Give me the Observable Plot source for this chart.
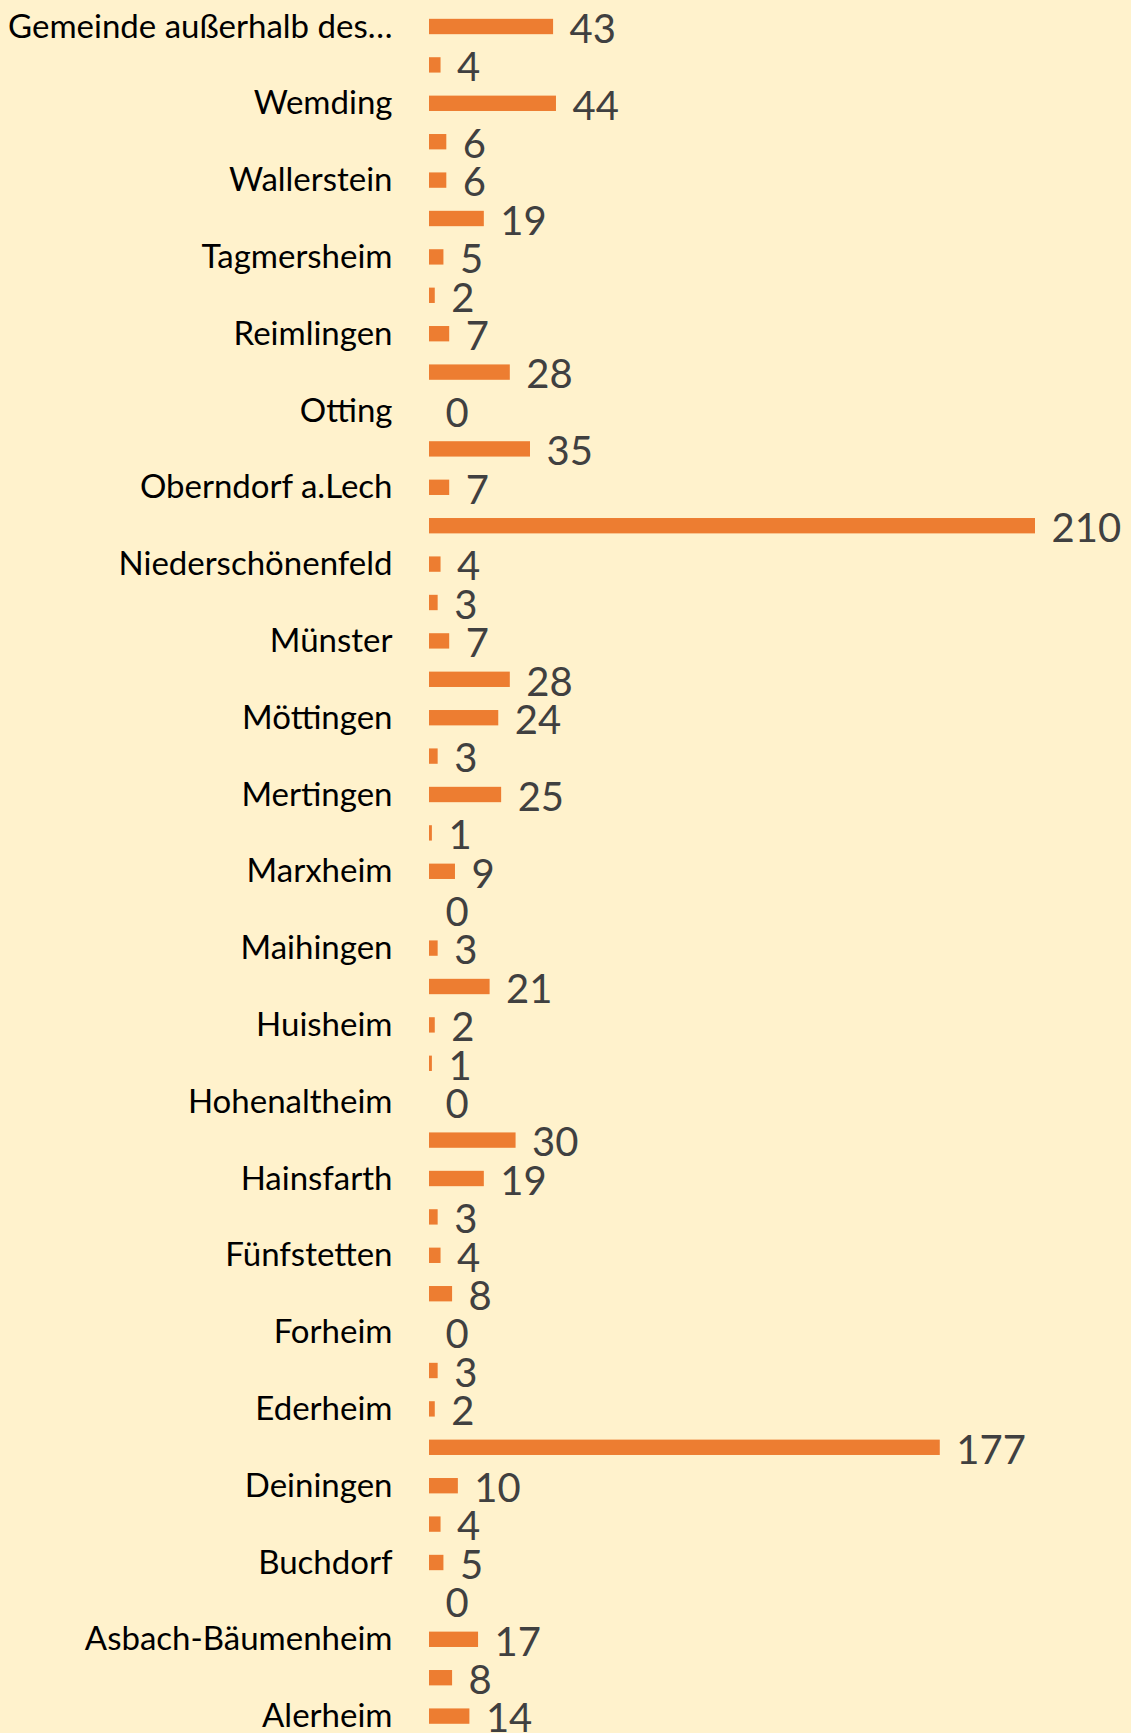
<!DOCTYPE html>
<html>
<head>
<meta charset="utf-8">
<script src="https://cdn.jsdelivr.net/npm/d3@7"></script>
<script src="https://cdn.jsdelivr.net/npm/@observablehq/plot@0.6"></script>
<style>
  html, body { margin: 0; padding: 0; background: #FFF2CC; }
  #chart svg { display: block; }
</style>
</head>
<body>
<div id="chart"></div>
<script>
// Categories from top to bottom
const categories = [
  "Gemeinde außerhalb des Landkreises", "Wolferstadt", "Wemding", "Wechingen", "Wallerstein",
  "Tapfheim", "Tagmersheim", "Rögling", "Reimlingen", "Rain",
  "Otting", "Oettingen", "Oberndorf a.Lech", "Nördlingen", "Niederschönenfeld",
  "Munningen", "Münster", "Monheim", "Möttingen", "Mönchsdeggingen",
  "Mertingen", "Megesheim", "Marxheim", "Marktoffingen", "Maihingen",
  "Kaisheim", "Huisheim", "Holzheim", "Hohenaltheim", "Harburg",
  "Hainsfarth", "Genderkingen", "Fünfstetten", "Fremdingen", "Forheim",
  "Ehingen am Ries", "Ederheim", "Donauwörth", "Deiningen", "Daiting",
  "Buchdorf", "Auhausen", "Asbach-Bäumenheim", "Amerdingen", "Alerheim"
];
const values = [
  43, 4, 44, 6, 6,
  19, 5, 2, 7, 28,
  0, 35, 7, 210, 4,
  3, 7, 28, 24, 3,
  25, 1, 9, 0, 3,
  21, 2, 1, 0, 30,
  19, 3, 4, 8, 0,
  3, 2, 177, 10, 4,
  5, 0, 17, 8, 14
];
// Only every other category label is shown (as in the original chart)
const shownLabels = new Set(categories.filter((d, i) => i % 2 === 0));
const truncatedLabel = {"Gemeinde außerhalb des Landkreises": "Gemeinde außerhalb des…"};

const data = categories.map((c, i) => ({category: c, value: values[i]}));

const chart = Plot.plot({
  width: 1131,
  height: 1733,
  marginLeft: 429,
  marginRight: 96,
  marginTop: 7,
  marginBottom: 0,
  style: {background: "#FFF2CC", fontFamily: "Lato, 'Open Sans', sans-serif", color: "#000"},
  x: {domain: [0, 210], axis: null},
  y: {
    domain: categories,
    range: [7.3, 1735.3],
    round: false,
    paddingInner: 0.6,
    paddingOuter: 0.3,
    label: null,
    tickSize: 0,
    tickPadding: 37,
    tickFormat: d => shownLabels.has(d) ? (truncatedLabel[d] || d) : ""
  },
  marks: [
    Plot.ruleX([0], {stroke: "#D9D9D9", strokeWidth: 1.5, y1: 0, y2: 1733}),
    Plot.barX(data, {x: "value", y: "category", fill: "#ED7D31"}),
    Plot.text(data, {
      x: "value", y: "category", text: d => String(d.value),
      textAnchor: "start", dx: 16, dy: 3, fontSize: 40, fill: "#404040"
    })
  ]
});
chart.querySelectorAll("g[aria-label='y-axis tick label'] text, g[aria-label='y-axis'] text").forEach(t => {
  t.setAttribute("font-size", "33");
});
chart.querySelectorAll("g[aria-label='y-axis tick label'], g[aria-label='y-axis']").forEach(g => {
  g.setAttribute("font-size", "33");
});
document.getElementById("chart").appendChild(chart);
</script>
</body>
</html>
